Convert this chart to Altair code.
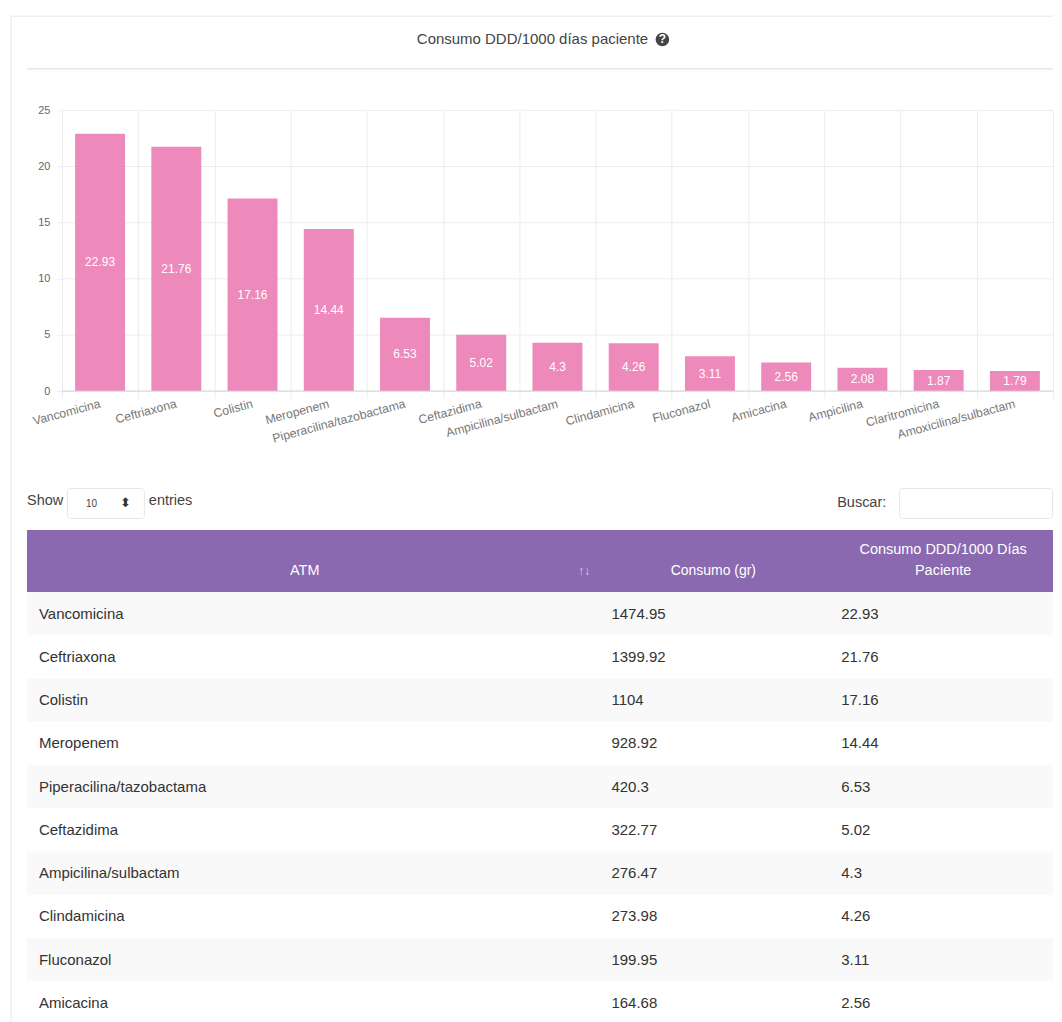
import altair as alt
import pandas as pd

FONT = "Liberation Sans"
W = 1046
farmacos = ["Vancomicina", "Ceftriaxona", "Colistin", "Meropenem", "Piperacilina/tazobactama",
            "Ceftazidima", "Ampicilina/sulbactam", "Clindamicina", "Fluconazol", "Amicacina",
            "Ampicilina", "Claritromicina", "Amoxicilina/sulbactam"]
ddd = [22.93, 21.76, 17.16, 14.44, 6.53, 5.02, 4.3, 4.26, 3.11, 2.56, 2.08, 1.87, 1.79]
consumo = [1474.95, 1399.92, 1104, 928.92, 420.3, 322.77, 276.47, 273.98, 199.95, 164.68]
y_ticks = [0, 5, 10, 15, 20, 25]

PINK = "#ee8abb"
PURPLE = "#8a69b1"
ONE = alt.Data(values=[{"a": 1}])


def txt(s, x, y, size=14.5, color="#444444", align="left", **kw):
    return alt.Chart(ONE).mark_text(text=s, font=FONT, fontSize=size, color=color, align=align,
                                    baseline="middle", **kw).encode(x=alt.value(x), y=alt.value(y))


def box(x, x2, y, y2, **kw):
    return alt.Chart(ONE).mark_rect(**kw).encode(
        x=alt.value(x), x2=alt.value(x2), y=alt.value(y), y2=alt.value(y2))


def card_edge(h, y0=0):
    return box(2.5, 4, y0, h, fill="#f0f0f0")


# ---- card header (view spans page y 8..110)
header = alt.layer(
    card_edge(102, 7),
    box(2.5, W, 7, 8.5, fill="#f0f0f0"),
    txt("Consumo DDD/1000 días paciente", 525, 31, size=15, color="#444444", align="center"),
    alt.Chart(ONE).mark_point(filled=True, size=185, color="#444444", opacity=1).encode(x=alt.value(655), y=alt.value(31)),
    txt("?", 655, 31, size=12, color="#ffffff", align="center", fontWeight="bold"),
    box(19, W, 59.5, 61, fill="#e8e8e8"),
).properties(width=W, height=102)

# ---- bar chart (view spans page y 110..391)
df = pd.DataFrame({"atm": farmacos, "ddd": ddd})
df["mid"] = df["ddd"] / 2
x_scale = alt.Scale(range=[54, W], paddingInner=0, paddingOuter=0)
y_scale = alt.Scale(domain=[0, 25], nice=False)
y_axis = alt.Axis(title=None, values=y_ticks, offset=-54, domain=False, grid=False, tickSize=5,
                  tickColor="#ececec", labelColor="#666666", labelFont=FONT, labelFontSize=11,
                  labelPadding=7)
grid = alt.Chart(pd.DataFrame({"t": y_ticks})).mark_rule(color="#ececec", strokeWidth=1).encode(
    y=alt.Y("t:Q", scale=y_scale, axis=y_axis), x=alt.value(54), x2=alt.value(W))
base_line = alt.Chart(pd.DataFrame({"t": [0]})).mark_rule(color="#d4d4d4", strokeWidth=1).encode(
    y=alt.Y("t:Q", scale=y_scale, axis=y_axis), x=alt.value(54), x2=alt.value(W))
bars = alt.Chart(df).mark_bar(color=PINK, size=50).encode(
    x=alt.X("atm:N", sort=farmacos, scale=x_scale,
            axis=alt.Axis(title=None, labelAngle=345, labelAlign="right", labelBaseline="top",
                          tickBand="extent", tickExtra=False, grid=True, gridColor="#ececec",
                          tickColor="#ececec", domain=False, labelColor="#777777", labelFont=FONT,
                          labelFontSize=12.3, labelPadding=-1, labelOffset=-2, tickSize=7,
                          labelOverlap=False)),
    y=alt.Y("ddd:Q", scale=y_scale, axis=y_axis))
labels = alt.Chart(df).mark_text(color="#ffffff", font=FONT, fontSize=12, baseline="middle").encode(
    x=alt.X("atm:N", sort=farmacos, scale=x_scale),
    y=alt.Y("mid:Q", scale=y_scale, axis=y_axis),
    text=alt.Text("ddd:Q", format=""))
plot = alt.layer(card_edge(281), grid, bars, base_line, labels).properties(width=W, height=281)

# ---- controls + table (view spans page y 391..1022+)
OY = 391
tb = pd.DataFrame({"atm": farmacos[:10], "consumo": consumo, "ddd": ddd[:10]})
row_scale = alt.Scale(range=[592 - OY, 592 - OY + 433], paddingInner=0, paddingOuter=0)
row_y = alt.Y("atm:N", sort=farmacos, scale=row_scale, axis=None)
stripes = alt.Chart(tb.iloc[::2]).mark_bar(color="#f9f9f9", clip=True).encode(
    y=row_y, x=alt.value(19), x2=alt.value(W))


def col(field, x):
    return alt.Chart(tb).mark_text(align="left", font=FONT, fontSize=15, color="#333333", baseline="middle").encode(
        y=row_y, x=alt.value(x), text=alt.Text(field))


table = alt.layer(
    card_edge(640),
    stripes,
    col("atm:N", 31), col("consumo:Q", 604), col("ddd:Q", 834),
    txt("Show", 19, 110),
    box(59.5, 136.5, 97.5, 127.5, fill="#ffffff", stroke="#e6e6e6", cornerRadius=3),
    txt("10", 78, 113, size=10),
    txt("⬍", 118, 112, size=13, align="center", color="#333333"),
    txt("entries", 141, 110),
    txt("Buscar:", 830, 112),
    box(892.5, W - 0.5, 97.5, 127.5, fill="#ffffff", stroke="#e6e6e6", cornerRadius=3),
    box(19, W, 530 - OY, 592 - OY, fill=PURPLE),
    txt("ATM", 297, 180, color="#ffffff", align="center"),
    txt("↑↓", 577, 180, size=12, color="#d9cde8", align="center"),
    txt("Consumo (gr)", 706, 180, size=14, color="#ffffff", align="center"),
    txt("Consumo DDD/1000 Días", 936, 159, color="#ffffff", align="center"),
    txt("Paciente", 936, 180, color="#ffffff", align="center"),
).properties(width=W, height=640)

chart = alt.vconcat(header, plot, table, spacing=0, bounds="flush").properties(
    padding=0, background="#ffffff"
).configure_view(stroke=None)
chart.save("out.html", embed_options={"renderer": "svg", "actions": False})
